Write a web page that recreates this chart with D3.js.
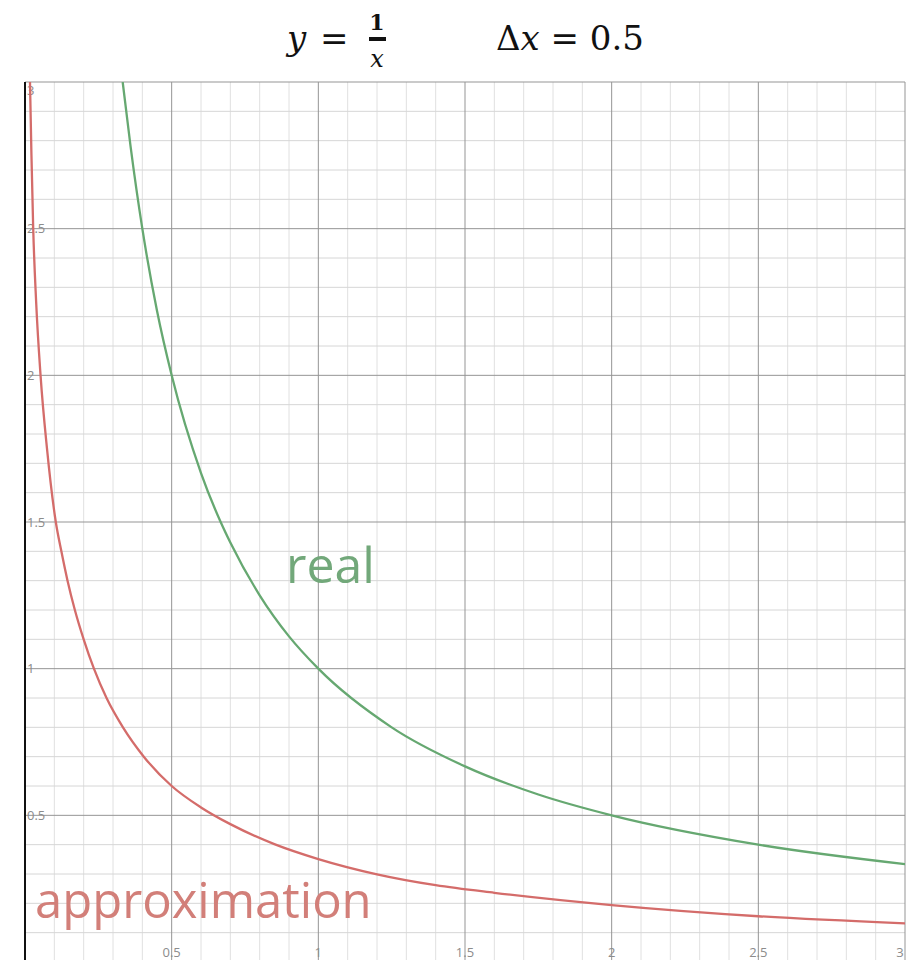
<!DOCTYPE html>
<html>
<head>
<meta charset="utf-8">
<script src="https://cdn.jsdelivr.net/npm/d3@7"></script>
<style>
  html, body { margin: 0; padding: 0; background: #fff; }
  svg { display: block; }
</style>
</head>
<body>
<div id="chart"></div>
<script>
// values
const realX = [0.333, 0.36, 0.4, 0.45, 0.5, 0.6, 0.667, 0.7, 0.8, 0.9, 1.0, 1.25, 1.5, 1.75, 2.0, 2.5, 3.05];
const realY = [3.0, 2.78, 2.5, 2.22, 2.0, 1.667, 1.5, 1.43, 1.25, 1.11, 1.0, 0.8, 0.667, 0.571, 0.5, 0.4, 0.328];

const approxX = [0.017, 0.022, 0.028, 0.038, 0.053, 0.075, 0.105, 0.124, 0.145, 0.17, 0.2, 0.235, 0.278, 0.334, 0.405, 0.5, 0.6, 0.7, 0.85, 1.0, 1.2, 1.4, 1.6, 2.0, 2.5, 3.05];
const approxY = [3.0, 2.75, 2.5, 2.25, 2.0, 1.75, 1.5, 1.4, 1.3, 1.2, 1.1, 1.0, 0.9, 0.8, 0.7, 0.6, 0.527, 0.47, 0.402, 0.351, 0.299, 0.262, 0.236, 0.194, 0.156, 0.13];

const xTickLabels = ["0.5", "1", "1.5", "2", "2.5", "3"];
const yTickLabels = ["0.5", "1", "1.5", "2", "2.5", "3"];

const width = 913, height = 960;
const margin = { top: 82, right: 8, bottom: -2, left: 25 };
const innerW = width - margin.left - margin.right;
const innerH = height - margin.top - margin.bottom;

const svg = d3.select("#chart").append("svg")
    .attr("width", width)
    .attr("height", height)
    .style("font-family", "'Open Sans', sans-serif");

const x = d3.scaleLinear().domain([0, 3]).range([margin.left, margin.left + innerW]);
const y = d3.scaleLinear().domain([0, 3]).range([margin.top + innerH, margin.top]);

// grid
const steps = d3.range(0, 31).map(i => i / 10);
const isMajor = v => Math.abs(v * 2 - Math.round(v * 2)) < 1e-6;

const grid = svg.append("g");
grid.selectAll(".vminor")
    .data(steps.filter(v => v > 0 && !isMajor(v)))
    .join("line")
    .attr("x1", d => x(d)).attr("x2", d => x(d))
    .attr("y1", y(3)).attr("y2", y(0))
    .attr("stroke", "#e0e0e0").attr("stroke-width", 1);
grid.selectAll(".hminor")
    .data(steps.filter(v => v > 0 && !isMajor(v)))
    .join("line")
    .attr("x1", x(0)).attr("x2", x(3))
    .attr("y1", d => y(d)).attr("y2", d => y(d))
    .attr("stroke", "#d6d6d6").attr("stroke-width", 1);
grid.selectAll(".vmajor")
    .data(xTickLabels.map(Number))
    .join("line")
    .attr("x1", d => x(d)).attr("x2", d => x(d))
    .attr("y1", y(3)).attr("y2", y(0))
    .attr("stroke", "#959595").attr("stroke-width", 1);
grid.selectAll(".hmajor")
    .data(yTickLabels.map(Number))
    .join("line")
    .attr("x1", x(0)).attr("x2", x(3))
    .attr("y1", d => y(d)).attr("y2", d => y(d))
    .attr("stroke", "#959595").attr("stroke-width", 1);

// axes
svg.append("line")
    .attr("x1", x(0)).attr("x2", x(0))
    .attr("y1", y(3)).attr("y2", y(0))
    .attr("stroke", "#111").attr("stroke-width", 2);
svg.append("line")
    .attr("x1", x(0)).attr("x2", x(3))
    .attr("y1", y(0)).attr("y2", y(0))
    .attr("stroke", "#111").attr("stroke-width", 2);

// tick labels
svg.selectAll(".ylab")
    .data(yTickLabels)
    .join("text")
    .attr("x", x(0) + 2)
    .attr("y", d => Math.max(y(+d), y(3) + 8))
    .attr("dy", "0.35em")
    .style("font-size", "13px")
    .style("fill", "#8c8c8c")
    .text(d => d);

svg.selectAll(".xlab")
    .data(xTickLabels)
    .join("text")
    .attr("x", d => Math.min(x(+d), x(3) - 5))
    .attr("y", 952)
    .attr("dy", "0.35em")
    .attr("text-anchor", "middle")
    .style("font-size", "13px")
    .style("fill", "#8c8c8c")
    .text(d => d);

// curves
svg.append("clipPath").attr("id", "plot")
    .append("rect")
    .attr("x", x(0)).attr("y", y(3))
    .attr("width", innerW).attr("height", innerH);

const line = d3.line()
    .x(d => x(d[0]))
    .y(d => y(d[1]))
    .curve(d3.curveMonotoneX);

svg.append("path")
    .datum(realX.map((v, i) => [v, realY[i]]))
    .attr("clip-path", "url(#plot)")
    .attr("d", line)
    .attr("fill", "none")
    .attr("stroke", "#66a871")
    .attr("stroke-width", 2.3);

svg.append("path")
    .datum(approxX.map((v, i) => [v, approxY[i]]))
    .attr("clip-path", "url(#plot)")
    .attr("d", line)
    .attr("fill", "none")
    .attr("stroke", "#d46c6a")
    .attr("stroke-width", 2.3);

// curve labels
svg.append("text")
    .attr("x", 286).attr("y", 583)
    .style("font-size", "50px")
    .style("fill", "#72a87a")
    .text("real");

svg.append("text")
    .attr("x", 35).attr("y", 918)
    .style("font-size", "49px")
    .style("fill", "#d27f79")
    .text("approximation");

// title
const math = "'DejaVu Serif', serif";
const title = svg.append("g").style("font-family", math).style("fill", "#111");
title.append("text").attr("x", 287).attr("y", 50)
    .style("font-size", "34px").style("font-style", "italic").text("y");
title.append("text").attr("x", 320).attr("y", 50)
    .style("font-size", "34px").text("=");
title.append("text").attr("x", 377).attr("y", 30).attr("text-anchor", "middle")
    .style("font-size", "22px").style("font-weight", "bold").text("1");
title.append("rect").attr("x", 369).attr("y", 37).attr("width", 17).attr("height", 4);
title.append("text").attr("x", 377).attr("y", 67).attr("text-anchor", "middle")
    .style("font-size", "24px").style("font-style", "italic").text("x");
const dx = title.append("text").attr("x", 496).attr("y", 50).style("font-size", "34px");
dx.append("tspan").text("Δ");
dx.append("tspan").style("font-style", "italic").text("x");
dx.append("tspan").text(" = 0.5");
</script>
</body>
</html>
